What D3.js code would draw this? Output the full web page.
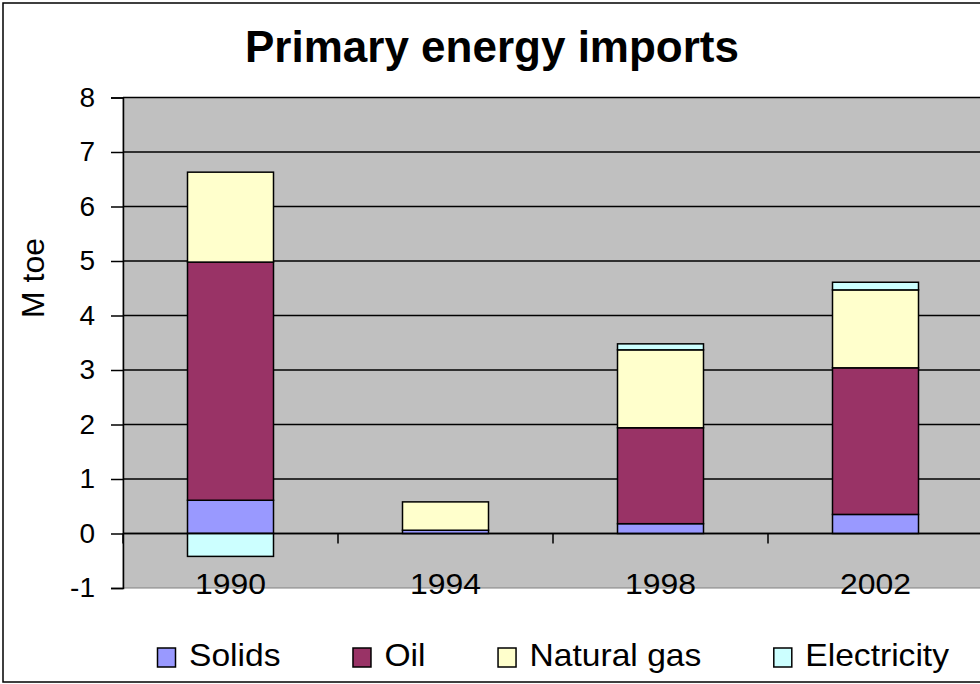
<!DOCTYPE html>
<html>
<head>
<meta charset="utf-8">
<script src="https://cdn.jsdelivr.net/npm/d3@7"></script>
<style>
  body { margin: 0; background: #fff; }
  svg { display: block; font-family: "Liberation Sans", Arial, sans-serif; }
</style>
</head>
<body>
<svg id="chart" width="980" height="684"></svg>
<script>
// chart data (M toe)
var years = ["1990", "1994", "1998", "2002"];
var seriesNames = ["Solids", "Oil", "Natural gas", "Electricity"];
var solids      = [0.61, 0.06, 0.18, 0.35];
var oil         = [4.37, 0.00, 1.76, 2.69];
var naturalGas  = [1.65, 0.52, 1.43, 1.43];
var electricity = [-0.42, 0.00, 0.11, 0.14];
var seriesColors = ["#9999FF", "#993366", "#FFFFCC", "#CCFFFF"];
var yTicks = [-1, 0, 1, 2, 3, 4, 5, 6, 7, 8];

var svg = d3.select("#chart");

// plot area box (right side runs off the picture like the original)
var plotLeft = 123, plotTop = 97.5, plotBottom = 588, plotRight = 983;

// outer chart border
svg.append("rect")
  .attr("x", 3).attr("y", 3)
  .attr("width", 1000).attr("height", 679)
  .attr("fill", "#fff")
  .attr("stroke", "#000").attr("stroke-width", 1.5);

var x = d3.scaleBand()
  .domain(years)
  .range([plotLeft, plotRight])
  .paddingInner(0.6)
  .paddingOuter(0.3);

var y = d3.scaleLinear()
  .domain([d3.min(yTicks), d3.max(yTicks)])
  .range([plotBottom, plotTop]);

// plot background
svg.append("rect")
  .attr("x", plotLeft).attr("y", plotTop)
  .attr("width", plotRight - plotLeft).attr("height", plotBottom - plotTop)
  .attr("fill", "#C0C0C0")
  .attr("stroke", "#808080").attr("stroke-width", 1);

// gridlines
svg.append("g").selectAll("line")
  .data(yTicks.filter(function(t) { return t > d3.min(yTicks); }))
  .enter().append("line")
    .attr("x1", plotLeft).attr("x2", plotRight)
    .attr("y1", function(d) { return y(d); })
    .attr("y2", function(d) { return y(d); })
    .attr("stroke", "#000").attr("stroke-width", 1.5);

// stacked bars, negatives stacked below zero
var rows = years.map(function(yr, i) {
  return { year: yr, "Solids": solids[i], "Oil": oil[i], "Natural gas": naturalGas[i], "Electricity": electricity[i] };
});
var stack = d3.stack().keys(seriesNames).offset(d3.stackOffsetDiverging);
var layers = stack(rows);

var layerG = svg.append("g").selectAll("g")
  .data(layers)
  .enter().append("g")
    .attr("fill", function(d, i) { return seriesColors[i]; });

layerG.selectAll("rect")
  .data(function(d) { return d.filter(function(s) { return s[1] - s[0] !== 0; }); })
  .enter().append("rect")
    .attr("x", function(d) { return x(d.data.year); })
    .attr("width", x.bandwidth())
    .attr("y", function(d) { return y(Math.max(d[0], d[1])); })
    .attr("height", function(d) { return Math.abs(y(d[0]) - y(d[1])); })
    .attr("stroke", "#000").attr("stroke-width", 1.5);

// category axis at zero, with ticks between the categories
var step = x.step();
svg.append("line")
  .attr("x1", plotLeft).attr("x2", plotRight)
  .attr("y1", y(0)).attr("y2", y(0))
  .attr("stroke", "#000").attr("stroke-width", 1.5);
svg.append("g").selectAll("line")
  .data(d3.range(years.length + 1))
  .enter().append("line")
    .attr("x1", function(i) { return plotLeft + i * step; })
    .attr("x2", function(i) { return plotLeft + i * step; })
    .attr("y1", y(0)).attr("y2", y(0) + 10)
    .attr("stroke", "#000").attr("stroke-width", 1.5);

// value axis
var yAxis = d3.axisLeft(y).tickValues(yTicks).tickSize(12).tickPadding(16)
  .tickFormat(function(d) { return String(d); });
var yG = svg.append("g").attr("transform", "translate(" + plotLeft + ",0)").call(yAxis);
yG.select(".domain").attr("stroke", "#000").attr("stroke-width", 1.5);
yG.selectAll(".tick line").attr("stroke", "#000").attr("stroke-width", 1.5);
yG.selectAll(".tick text")
  .attr("font-size", 28)
  .attr("fill", "#000")
  .attr("font-family", "Liberation Sans, Arial, sans-serif");

// category labels sit low, at the bottom of the plot
svg.append("g").selectAll("text")
  .data(years)
  .enter().append("text")
    .attr("transform", function(d) { return "translate(" + (x(d) + x.bandwidth() / 2) + ",594) scale(1.1,1)"; })
    .attr("text-anchor", "middle")
    .attr("font-size", 29)
    .text(function(d) { return d; });

// title
svg.append("text")
  .attr("x", 492).attr("y", 62)
  .attr("text-anchor", "middle")
  .attr("font-size", 44)
  .attr("font-weight", "bold")
  .text("Primary energy imports");

// axis title
svg.append("text")
  .attr("transform", "translate(44,278) rotate(-90)")
  .attr("text-anchor", "middle")
  .attr("font-size", 32)
  .text("M toe");

// legend, laid out left to right
var legend = svg.append("g").attr("transform", "translate(157,0)");
var lx = 0;
seriesNames.forEach(function(name, i) {
  var item = legend.append("g").attr("transform", "translate(" + lx + ",0)");
  item.append("rect")
    .attr("x", 0.5).attr("y", 648)
    .attr("width", 18).attr("height", 19)
    .attr("fill", seriesColors[i])
    .attr("stroke", "#000").attr("stroke-width", 1.5);
  var t = item.append("text")
    .attr("transform", "translate(32,666) scale(1.05,1)")
    .attr("font-size", 32)
    .text(name);
  lx += 32 + t.node().getComputedTextLength() * 1.05 + 72;
});
</script>
</body>
</html>
